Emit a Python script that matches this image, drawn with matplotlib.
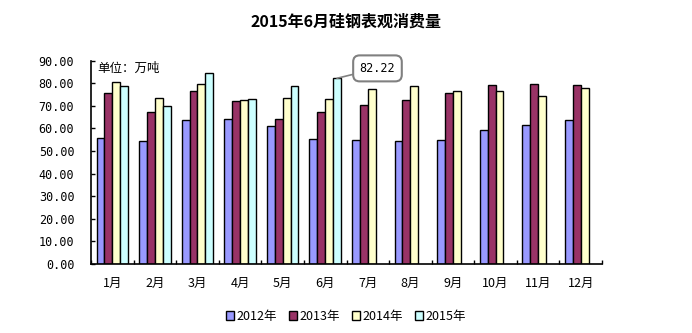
import matplotlib
matplotlib.use("Agg")
import matplotlib.pyplot as plt
import numpy as np

plt.rcParams['font.family'] = ['Noto Sans CJK SC', 'DejaVu Sans']

months = ['1月', '2月', '3月', '4月', '5月', '6月', '7月', '8月', '9月', '10月', '11月', '12月']
series_names = ['2012年', '2013年', '2014年', '2015年']
v2012 = [56.0, 54.3, 63.6, 64.0, 60.9, 55.2, 54.7, 54.3, 54.7, 59.1, 61.4, 63.6]
v2013 = [75.5, 67.1, 76.4, 72.0, 64.0, 67.1, 70.6, 72.4, 75.5, 79.1, 79.9, 79.1]
v2014 = [80.4, 73.7, 79.9, 72.4, 73.7, 72.9, 77.3, 78.6, 76.4, 76.8, 74.2, 77.7]
v2015 = [78.6, 69.8, 84.4, 72.9, 78.6, 82.22, np.nan, np.nan, np.nan, np.nan, np.nan, np.nan]
colors = ['#9999FF', '#993366', '#FFFFCC', '#CCFFFF']
yticks = [0, 10, 20, 30, 40, 50, 60, 70, 80, 90]

mono = ['DejaVu Sans Mono', 'Noto Sans CJK SC']

fig = plt.figure(figsize=(6.92, 3.33), dpi=100)
ax = fig.add_axes([91/692, 69/333, 511/692, 203.3/333])

x = np.arange(len(months))
w = 0.185
for j, (vals, c, name) in enumerate(zip([v2012, v2013, v2014, v2015], colors, series_names)):
    ax.bar(x + (j - 1.5) * w, vals, width=w, color=c, edgecolor='black', linewidth=1.0, label=name)

ax.set_xlim(-0.5, 11.5)
ax.set_ylim(0, 90)
ax.set_yticks(yticks)
ax.set_yticklabels([f'{t:.2f}' for t in yticks], fontsize=8.5, family=mono)
ax.set_xticks(x)
ax.set_xticklabels(months, fontsize=9)
ax.set_xticks(np.arange(-0.5, 12, 1), minor=True)
ax.tick_params(axis='x', which='major', length=0, pad=9)
ax.tick_params(axis='x', which='minor', direction='in', length=3, width=1)
ax.tick_params(axis='y', direction='in', length=3, width=1, pad=12)
for s in ['top', 'right']:
    ax.spines[s].set_visible(False)
for s in ['left', 'bottom']:
    ax.spines[s].set_linewidth(1.2)

ax.text(0.012, 0.995, '单位：万吨', transform=ax.transAxes, fontsize=9, va='top', ha='left')

# callout for June 2015
jun = 5
ax.annotate(f'{v2015[jun]:.2f}', xy=(jun + 1.5 * w, v2015[jun]), xytext=(jun + 1.5 * w + 0.95, 86.6),
            fontsize=8.5, family=mono, ha='center', va='center',
            bbox=dict(boxstyle='round,pad=0.55', fc='white', ec='gray', lw=1.5),
            arrowprops=dict(arrowstyle='-', color='gray', lw=1.2, shrinkA=0, shrinkB=0))

fig.text(0.5, 0.935, '2015年6月硅钢表观消费量', ha='center', va='center', fontsize=11.5, fontweight='bold')

fig.legend(loc='center', bbox_to_anchor=(0.5, 0.05), ncol=4, frameon=False, fontsize=9,
           handlelength=0.7, handleheight=0.7, handletextpad=0.2, columnspacing=0.9)

fig.savefig('out.png', dpi=100)
